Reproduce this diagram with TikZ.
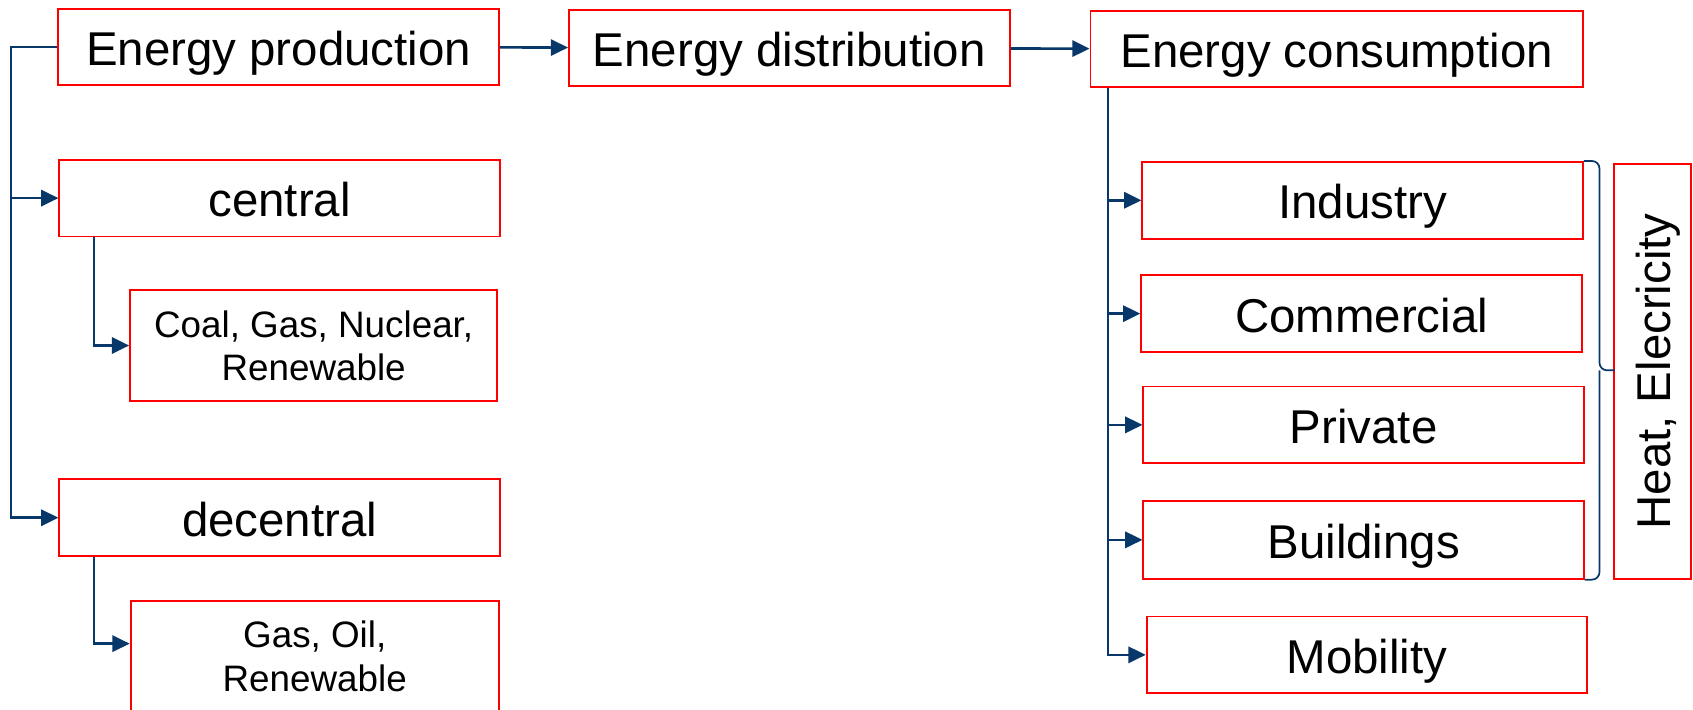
\documentclass[tikz,border=0pt]{standalone}
\usepackage{fontspec}
\setmainfont{Liberation Sans}
\usetikzlibrary{arrows.meta,calc}
\definecolor{kastenrot}{RGB}{255,0,0}
\definecolor{pfeilblau}{RGB}{8,55,105}

\begin{document}
\begin{tikzpicture}[
	kasten/.style={draw=kastenrot, line width=1pt, inner sep=0pt,
		minimum width=8.16cm, minimum height=1.42cm,
		text height=0.86cm, text depth=0.18cm,
		font=\fontsize{25}{30}\selectfont},
	kleinkasten/.style={kasten, minimum width=6.8cm, minimum height=2.04cm,
		text height=, text depth=, align=center,
		font=\fontsize{19.4}{22.8}\selectfont},
	pfeil/.style={draw=pfeilblau, line width=1.35pt,
		-{Triangle[length=0.32cm, width=0.3cm]}},
	klammer/.style={draw=pfeilblau, line width=0.9pt, rounded corners=0.14cm}
]
	\useasboundingbox (0, 0) rectangle (31.36, 13.14);
	% Obere Reihe
	\node [kasten] (prod) at (5.16, 12.27) {Energy production};
	\node [kasten] (dist) at (14.62, 12.25) {Energy distribution};
	\node [kasten, minimum width=9.12cm] (cons) at (24.76, 12.23) {Energy consumption};
	% Erzeugung
	\node [kasten] (central) at (5.18, 9.47) {central};
	\node [kleinkasten] (coal) at (5.81, 6.74) {Coal, Gas, Nuclear,\\Renewable};
	\node [kasten] (decentral) at (5.18, 3.55) {decentral};
	\node [kleinkasten, minimum width=6.82cm] (gas) at (5.83, 0.98) {Gas, Oil,\\Renewable};
	% Verbrauch
	\node [kasten] (industry) at (25.24, 9.43) {Industry};
	\node [kasten] (commercial) at (25.22, 7.33) {Commercial};
	\node [kasten] (private) at (25.26, 5.27) {Private};
	\node [kasten, minimum height=1.44cm] (buildings) at (25.26, 3.14) {Buildings};
	\node [kasten] (mobility) at (25.32, 1.01) {Mobility};
	\node [kasten, rotate=90, minimum width=7.68cm] (heat) at (30.61, 6.26) {Heat, Elecricity};
	% Linien
	\draw [pfeil] (prod) -- (dist);
	\draw [pfeil] (dist) -- (cons);
	\coordinate (lbus) at (0.2, 12.27);
	\draw [pfeil] (prod.west) -- (lbus) |- (decentral.west);
	\draw [pfeil] (lbus |- central.west) -- (central.west);
	\draw [pfeil] ([xshift=0.66cm]central.south west) |- (coal.west);
	\draw [pfeil] ([xshift=0.66cm]decentral.south west) |- ([yshift=-0.8cm]gas.north west);
	\coordinate (rbus) at ([xshift=0.34cm]cons.south west);
	\draw [pfeil] (rbus) |- (mobility.west);
	\foreach \ziel in {industry, commercial, private, buildings}
		\draw [pfeil] (rbus |- \ziel.west) -- (\ziel.west);
	% Klammer
	\coordinate (kmitte) at ($(industry.north east)!0.5!(buildings.south east)$);
	\draw [klammer] (industry.north east) -| ([xshift=0.28cm]kmitte) -- ([xshift=0.56cm]kmitte);
	\draw [klammer] (buildings.south east) -| ([xshift=0.28cm]kmitte);
\end{tikzpicture}
\end{document}
